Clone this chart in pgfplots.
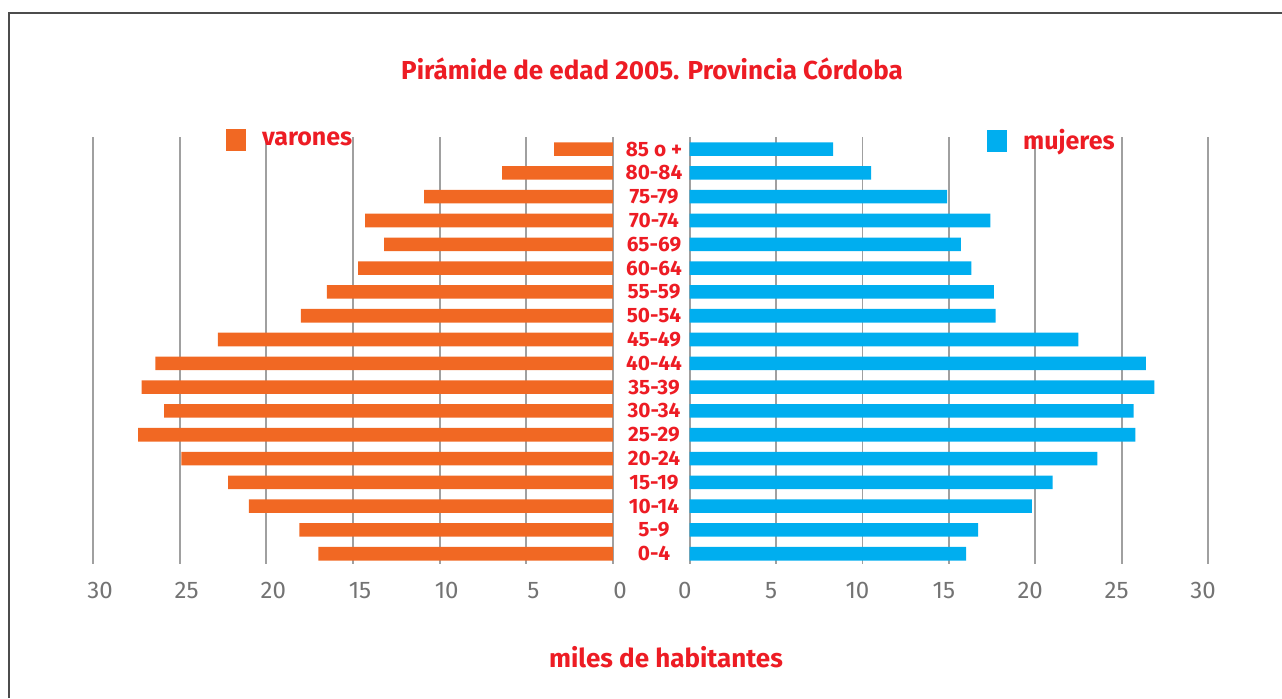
\documentclass[border=0pt]{standalone}
\usepackage{fontspec}
\setmainfont{Fira Sans}
\usepackage{pgfplots}
\pgfplotsset{compat=1.18}

\definecolor{naranja}{RGB}{241,104,35}
\definecolor{celeste}{RGB}{0,174,239}
\definecolor{rojo}{RGB}{237,28,36}
\definecolor{grilla}{RGB}{160,160,160}
\definecolor{numeros}{RGB}{115,115,115}

% miles de habitantes
\pgfplotstableread{
idx varones mujeres
0  17.0 16.0
1  18.1 16.7
2  21.0 19.8
3  22.2 21.0
4  24.9 23.6
5  27.4 25.8
6  25.9 25.7
7  27.2 26.9
8  26.4 26.4
9  22.8 22.5
10 18.0 17.7
11 16.5 17.6
12 14.7 16.3
13 13.2 15.7
14 14.3 17.4
15 10.9 14.9
16  6.4 10.5
17  3.4  8.3
}\piramide

\pgfplotsset{
  piramide/.style={
    scale only axis,
    height=213.4pt,
    xmin=0, xmax=30,
    ymin=-0.41, ymax=17.52,
    xtick={0,5,...,30},
    xmajorgrids,
    grid style={grilla, line width=0.9pt},
    axis line style={draw=none},
    major tick length=0pt,
    xbar, bar width=0.57, bar shift=0pt,
    xticklabel style={font=\fontsize{12}{14}\selectfont, text=numeros, yshift=-6pt},
    /pgf/number format/assume math mode=true,
    legend style={draw=none, fill=none, inner sep=0pt, outer sep=0pt,
      column sep=6pt,
      font=\fontsize{12.5}{14}\bfseries\selectfont, text=rojo,
      nodes={inner sep=2pt}},
    legend image code/.code={\fill[##1,draw=none] (0pt,-5.5pt) rectangle (10pt,5.5pt);},
  }
}

\begin{document}
\begin{tikzpicture}
\useasboundingbox (0,0) rectangle (641pt,-349pt);
\draw[gray!60!black, line width=1pt] (4.5pt,-349pt) -- (4.5pt,-6.5pt) -- (641pt,-6.5pt);

\begin{axis}[piramide,
  at={(46.5pt,-281.75pt)}, anchor=south west,
  width=260pt,
  x dir=reverse,
  ytick=\empty,
  xticklabel style={xshift=3.5pt},
  legend style={at={(axis description cs:0.256,0.993)}, anchor=west},
]
\addplot[fill=naranja, draw=none] table[x=varones, y=idx] {\piramide};
\addlegendentry{varones}
\end{axis}

\begin{axis}[piramide,
  at={(344.85pt,-281.75pt)}, anchor=south west,
  width=259.15pt,
  ytick={0,...,17},
  yticklabels={0-4,5-9,10-14,15-19,20-24,25-29,30-34,35-39,40-44,45-49,50-54,55-59,60-64,65-69,70-74,75-79,80-84,85 o +},
  yticklabel style={anchor=center, xshift=-17.85pt, text=rojo,
    font=\fontsize{10.4}{12}\bfseries\selectfont},
  xticklabel style={xshift=-2.5pt},
  legend style={at={(axis description cs:0.574,0.99)}, anchor=west},
]
\addplot[fill=celeste, draw=none] table[x=mujeres, y=idx] {\piramide};
\addlegendentry{mujeres}
\end{axis}

\node[text=rojo, font=\fontsize{13}{15}\bfseries\selectfont] at (326pt,-34.5pt) {Pirámide de edad 2005. Provincia Córdoba};
\node[text=rojo, font=\fontsize{13}{15}\bfseries\selectfont] at (333pt,-328.5pt) {miles de habitantes};
\end{tikzpicture}
\end{document}
